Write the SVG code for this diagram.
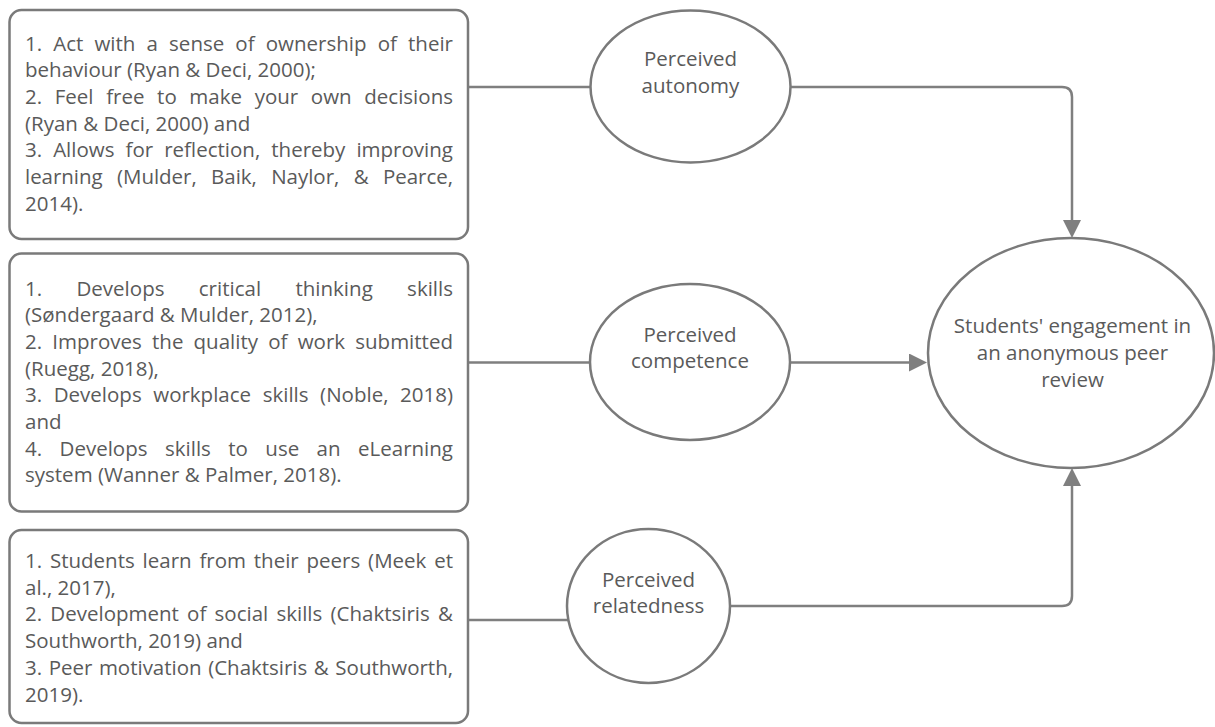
<svg xmlns="http://www.w3.org/2000/svg" width="1215" height="727" viewBox="0 0 1215 727">
<style>
.box{fill:#fff;stroke:#7a7a7a;stroke-width:2.5}
.ell{fill:#fff;stroke:#7a7a7a;stroke-width:2.5}
.t{font-family:"Open Sans","Noto Sans","DejaVu Sans",sans-serif;font-size:20.5px;fill:#5a5a5a}
.c{text-anchor:middle}
.ln{fill:none;stroke:#7f7f7f;stroke-width:2.5}
</style>
<defs>
<marker id="ah" viewBox="0 0 18 18" refX="1" refY="9" markerWidth="18" markerHeight="18" orient="auto" markerUnits="userSpaceOnUse">
<path d="M0,0 L18,9 L0,18 Z" fill="#7f7f7f"/>
</marker>
</defs>
<rect width="1215" height="727" fill="#fff"/>
<g id="connectors">
<line class="ln" x1="468" y1="87" x2="591" y2="87"/>
<line class="ln" x1="468" y1="362.5" x2="591" y2="362.5"/>
<line class="ln" x1="468" y1="620" x2="569" y2="620"/>
<path class="ln" d="M790,87 H1062 Q1072,87 1072,97 V221" marker-end="url(#ah)"/>
<path class="ln" d="M790,362.5 H910" marker-end="url(#ah)"/>
<path class="ln" d="M730,606 H1062 Q1072,606 1072,596 V485" marker-end="url(#ah)"/>
</g>
<g id="box-autonomy">
<rect class="box" x="9.5" y="10" width="458.5" height="229" rx="12"/>
<text class="t" x="25" y="50.5" word-spacing="5.79" textLength="428" lengthAdjust="spacing">1. Act with a sense of ownership of their</text>
<text class="t" x="25" y="77.2">behaviour (Ryan &amp; Deci, 2000);</text>
<text class="t" x="25" y="103.9" word-spacing="7.27" textLength="428" lengthAdjust="spacing">2. Feel free to make your own decisions</text>
<text class="t" x="25" y="130.6">(Ryan &amp; Deci, 2000) and</text>
<text class="t" x="25" y="157.3" word-spacing="5.7" textLength="428" lengthAdjust="spacing">3. Allows for reflection, thereby improving</text>
<text class="t" x="25" y="184" word-spacing="9.1" textLength="428" lengthAdjust="spacing">learning (Mulder, Baik, Naylor, &amp; Pearce,</text>
<text class="t" x="25" y="210.7">2014).</text>
</g>
<g id="box-competence">
<rect class="box" x="9.5" y="253.5" width="458.5" height="258" rx="12"/>
<text class="t" x="25" y="295.5" word-spacing="29" textLength="428" lengthAdjust="spacing">1. Develops critical thinking skills</text>
<text class="t" x="25" y="322.2">(Søndergaard &amp; Mulder, 2012),</text>
<text class="t" x="25" y="348.9" word-spacing="4.83" textLength="428" lengthAdjust="spacing">2. Improves the quality of work submitted</text>
<text class="t" x="25" y="375.6">(Ruegg, 2018),</text>
<text class="t" x="25" y="402.3" word-spacing="6.26" textLength="428" lengthAdjust="spacing">3. Develops workplace skills (Noble, 2018)</text>
<text class="t" x="25" y="429">and</text>
<text class="t" x="25" y="455.7" word-spacing="12.07" textLength="428" lengthAdjust="spacing">4. Develops skills to use an eLearning</text>
<text class="t" x="25" y="482.4">system (Wanner &amp; Palmer, 2018).</text>
</g>
<g id="box-relatedness">
<rect class="box" x="9.5" y="530" width="458.5" height="193" rx="12"/>
<text class="t" x="25" y="568" word-spacing="2.49" textLength="428" lengthAdjust="spacing">1. Students learn from their peers (Meek et</text>
<text class="t" x="25" y="594.7">al., 2017),</text>
<text class="t" x="25" y="621.4" word-spacing="2.92" textLength="428" lengthAdjust="spacing">2. Development of social skills (Chaktsiris &amp;</text>
<text class="t" x="25" y="648.1">Southworth, 2019) and</text>
<text class="t" x="25" y="674.8" word-spacing="1.26" textLength="428" lengthAdjust="spacing">3. Peer motivation (Chaktsiris &amp; Southworth,</text>
<text class="t" x="25" y="701.5">2019).</text>
</g>
<g id="ellipse-autonomy">
<ellipse class="ell" cx="690.5" cy="86.5" rx="100" ry="76"/>
<text class="t c" x="690.5" y="66">Perceived</text>
<text class="t c" x="690.5" y="92.7">autonomy</text>
</g>
<g id="ellipse-competence">
<ellipse class="ell" cx="690" cy="362" rx="100" ry="78"/>
<text class="t c" x="690" y="341.7">Perceived</text>
<text class="t c" x="690" y="368.4">competence</text>
</g>
<g id="ellipse-relatedness">
<ellipse class="ell" cx="648.5" cy="606" rx="81.5" ry="77"/>
<text class="t c" x="648.5" y="586.7">Perceived</text>
<text class="t c" x="648.5" y="613.4">relatedness</text>
</g>
<g id="ellipse-engagement">
<ellipse class="ell" cx="1071" cy="353" rx="143" ry="115"/>
<text class="t c" x="1072.5" y="333.3">Students' engagement in</text>
<text class="t c" x="1072.5" y="360">an anonymous peer</text>
<text class="t c" x="1072.5" y="386.7">review</text>
</g>
</svg>
